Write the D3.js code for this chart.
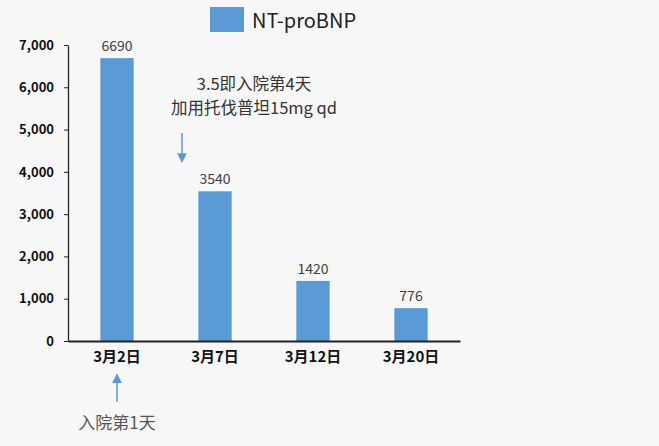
<!DOCTYPE html>
<html>
<head>
<meta charset="utf-8">
<script src="https://cdn.jsdelivr.net/npm/d3@7"></script>
<style>
  body { margin: 0; background: #f7f7f7; }
  svg { display: block; }
</style>
</head>
<body>
<script>
const dates = ["3月2日", "3月7日", "3月12日", "3月20日"];
const values = [6690, 3540, 1420, 776];
const yTicks = [0, 1000, 2000, 3000, 4000, 5000, 6000, 7000];
const seriesName = "NT-proBNP";
const noteTop = ["3.5即入院第4天", "加用托伐普坦15mg qd"];
const noteBottom = "入院第1天";

const width = 659, height = 446;
const blue = "#5b9bd5";
const font = "'Noto Sans CJK SC', 'Open Sans', sans-serif";

const svg = d3.select("body").append("svg")
  .attr("width", width)
  .attr("height", height)
  .style("background", "#f7f7f7");

const x = d3.scaleBand().domain(dates).range([68, 460]).paddingInner(0.66).paddingOuter(0.33);
const y = d3.scaleLinear().domain([0, 7000]).range([341, 45]);

// y axis
const yAxis = svg.append("g")
  .attr("transform", "translate(68,0)")
  .call(d3.axisLeft(y).tickValues(yTicks).tickSize(4).tickSizeOuter(0).tickPadding(10).tickFormat(d3.format(",")));
yAxis.select(".domain").attr("stroke", "#222").attr("stroke-width", 1.3);
yAxis.selectAll(".tick line").attr("stroke", "#222");
yAxis.selectAll("text")
  .style("font-family", font).style("font-size", "13px").style("font-weight", "bold").attr("fill", "#111");

// bars
svg.selectAll(".bar").data(values).enter().append("rect")
  .attr("class", "bar")
  .attr("x", (d, i) => x(dates[i]))
  .attr("width", x.bandwidth())
  .attr("y", d => y(d))
  .attr("height", d => y(0) - y(d))
  .attr("fill", blue);

// value labels
svg.selectAll(".val").data(values).enter().append("text")
  .attr("x", (d, i) => x(dates[i]) + x.bandwidth() / 2)
  .attr("y", d => y(d) - 7)
  .attr("text-anchor", "middle")
  .style("font-family", font).style("font-size", "14px")
  .attr("fill", "#404040")
  .text(d => d);

// x axis
const xAxis = svg.append("g")
  .attr("transform", "translate(0,341)")
  .call(d3.axisBottom(x).tickSize(0).tickPadding(10));
xAxis.select(".domain").attr("stroke", "#222").attr("stroke-width", 2);
xAxis.selectAll("text")
  .style("font-family", font).style("font-size", "15px").style("font-weight", "bold").attr("fill", "#111");

// legend
svg.append("rect").attr("x", 210).attr("y", 7).attr("width", 34).attr("height", 25).attr("fill", blue);
svg.append("text").attr("x", 252).attr("y", 28)
  .style("font-family", font).style("font-size", "20px").attr("fill", "#222")
  .text(seriesName);

// annotation top
svg.append("g").selectAll("text").data(noteTop).enter().append("text")
  .attr("x", 254)
  .attr("y", (d, i) => 90 + i * 24)
  .attr("text-anchor", "middle")
  .style("font-family", font).style("font-size", "16.5px").attr("fill", "#333")
  .text(d => d);

svg.append("defs").append("marker")
  .attr("id", "arrow").attr("viewBox", "0 0 10 10").attr("refX", 5).attr("refY", 5)
  .attr("markerWidth", 6.5).attr("markerHeight", 6.5).attr("orient", "auto-start-reverse")
  .append("path").attr("d", "M0,0L10,5L0,10Z").attr("fill", blue);

svg.append("line").attr("x1", 182).attr("x2", 182).attr("y1", 133).attr("y2", 158)
  .attr("stroke", blue).attr("stroke-width", 1.5).attr("marker-end", "url(#arrow)");

const cx0 = x(dates[0]) + x.bandwidth() / 2;
svg.append("line").attr("x1", cx0).attr("x2", cx0).attr("y1", 402).attr("y2", 378)
  .attr("stroke", blue).attr("stroke-width", 1.5).attr("marker-end", "url(#arrow)");

svg.append("text").attr("x", cx0).attr("y", 429).attr("text-anchor", "middle")
  .style("font-family", font).style("font-size", "17px").attr("fill", "#555")
  .text(noteBottom);
</script>
</body>
</html>
